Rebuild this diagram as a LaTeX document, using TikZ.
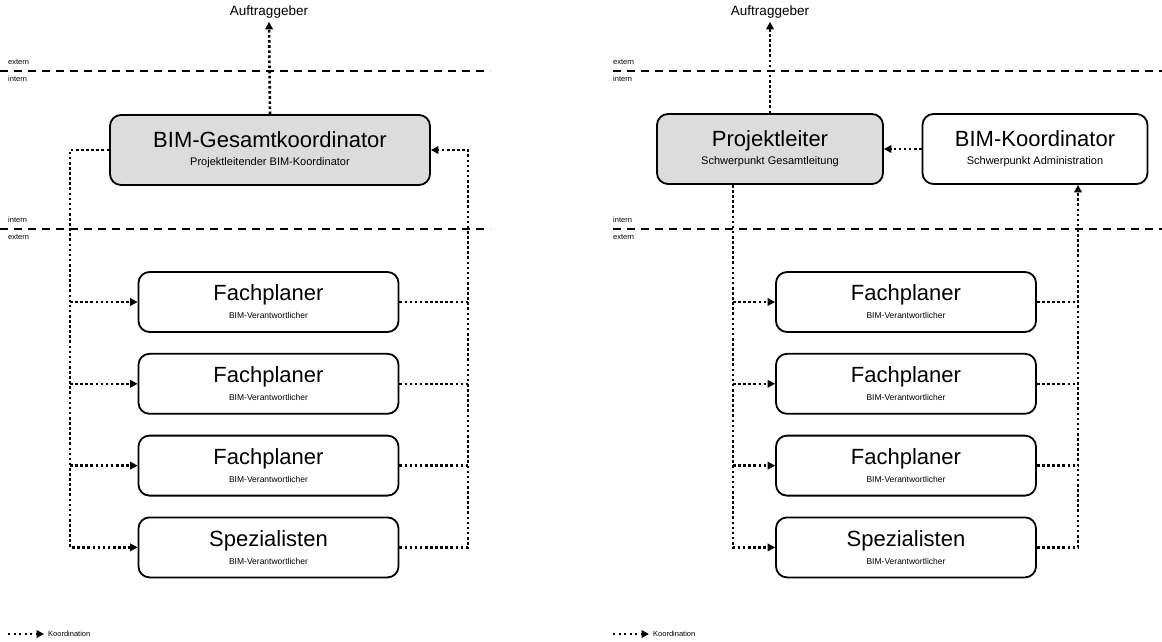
\documentclass[tikz,border=0pt]{standalone}
\usepackage{fontspec}
\setmainfont{Liberation Sans}
\usetikzlibrary{arrows.meta,positioning}
\definecolor{leadgray}{RGB}{220,220,220}
\newcommand{\SubLarge}{\fontsize{11}{18}\selectfont}
\newcommand{\SubSmall}{\fontsize{8.5}{18}\selectfont}
\tikzstyle{Lead} = [draw, rectangle, rounded corners=11pt, line width=1.8pt, minimum height=70pt, align=center, font=\fontsize{22}{18}\selectfont]
\tikzstyle{Block} = [draw, rectangle, rounded corners=11pt, line width=1.8pt, minimum width=260pt, minimum height=60pt, align=center, font=\fontsize{22}{18}\selectfont]
\tikzstyle{Top} = [font=\fontsize{13.5}{16}\selectfont]
\tikzstyle{Zone} = [font=\fontsize{7.5}{8}\selectfont, inner sep=0pt, anchor=west]
\tikzstyle{Border} = [line width=1.2pt, dash pattern=on 8pt off 6pt]
\tikzstyle{Coord} = [line width=2.6pt, dash pattern=on 2.6pt off 2.5pt]
\tikzstyle{Flow} = [Coord, -{Triangle[length=7.5pt,width=7.5pt]}]
\tikzstyle{Key} = [Flow, line width=2pt, dash pattern=on 2pt off 3.5pt, shorten >=4pt]

\begin{document}
\begin{tikzpicture}[x=1pt,y=-1pt]
    \useasboundingbox (0,0) rectangle (1162,641);

    % left: one overall coordinator
    \draw[Border] (0,71) -- (490,71);
    \draw[Border] (0,229) -- (490,229);
    \node[Zone] (ext1) at (8,62)  {extern};
    \node[Zone] (int1) at (8,79)  {intern};
    \node[Zone] (int2) at (8,220) {intern};
    \node[Zone] (ext2) at (8,237) {extern};

    \node[Top]  (client) at (269,12) {Auftraggeber};
    \node[Lead, fill=leadgray, minimum width=320pt] (gesamt) at (270,150)
        {BIM-Gesamtkoordinator\\{\SubLarge Projektleitender BIM-Koordinator}};
    \node[Block] (fach1) at (268.5,302)     {Fachplaner\\{\SubSmall BIM-Verantwortlicher}};
    \node[Block] (fach2) [below=20pt of fach1] {Fachplaner\\{\SubSmall BIM-Verantwortlicher}};
    \node[Block] (fach3) [below=20pt of fach2] {Fachplaner\\{\SubSmall BIM-Verantwortlicher}};
    \node[Block] (spez)  [below=20pt of fach3] {Spezialisten\\{\SubSmall BIM-Verantwortlicher}};

    \coordinate (lbus) at (70,0);
    \coordinate (rbus) at (468,0);
    \draw[Flow] (gesamt.north) -- (client.south);
    \draw[Flow] (gesamt.west) -| (lbus |- spez.west) -- (spez.west);
    \foreach \n in {fach1,fach2,fach3}
        \draw[Flow] (lbus |- \n.west) -- (\n.west);
    \draw[Flow] (spez.east) -| (rbus |- gesamt.east) -- (gesamt.east);
    \foreach \n in {fach1,fach2,fach3}
        \draw[Coord] (\n.east) -- (rbus |- \n.east);

    \coordinate (legA) at (8,634);
    \node[Zone] (leg) at (48,634) {Koordination};
    \draw[Key] (legA) -- (leg.west);

    % right: project lead plus BIM coordinator
    \draw[Border] (613,71) -- (1162,71);
    \draw[Border] (613,229) -- (1162,229);
    \node[Zone] (ext3) at (613,62)  {extern};
    \node[Zone] (int3) at (613,79)  {intern};
    \node[Zone] (int4) at (613,220) {intern};
    \node[Zone] (ext4) at (613,237) {extern};

    \node[Top]  (client2) at (770,12) {Auftraggeber};
    \node[Lead, fill=leadgray, minimum width=226pt] (leiter) at (770,149)
        {Projektleiter\\{\SubLarge Schwerpunkt Gesamtleitung}};
    \node[Lead, minimum width=225pt] (koord) at (1035,149)
        {BIM-Koordinator\\{\SubLarge Schwerpunkt Administration}};
    \node[Block] (fachA) at (906,302)       {Fachplaner\\{\SubSmall BIM-Verantwortlicher}};
    \node[Block] (fachB) [below=20pt of fachA] {Fachplaner\\{\SubSmall BIM-Verantwortlicher}};
    \node[Block] (fachC) [below=20pt of fachB] {Fachplaner\\{\SubSmall BIM-Verantwortlicher}};
    \node[Block] (spezA) [below=20pt of fachC] {Spezialisten\\{\SubSmall BIM-Verantwortlicher}};

    \coordinate (lbus2) at (733,0);
    \coordinate (rbus2) at (1078,0);
    \draw[Flow] (leiter.north) -- (client2.south);
    \draw[Flow] (koord.west) -- (leiter.east);
    \draw[Flow] (lbus2 |- leiter.south) |- (spezA.west);
    \foreach \n in {fachA,fachB,fachC}
        \draw[Flow] (lbus2 |- \n.west) -- (\n.west);
    \draw[Flow] (spezA.east) -| (rbus2 |- koord.south);
    \foreach \n in {fachA,fachB,fachC}
        \draw[Coord] (\n.east) -- (rbus2 |- \n.east);

    \coordinate (legB) at (613,634);
    \node[Zone] (leg2) at (653,634) {Koordination};
    \draw[Key] (legB) -- (leg2.west);
\end{tikzpicture}
\end{document}
